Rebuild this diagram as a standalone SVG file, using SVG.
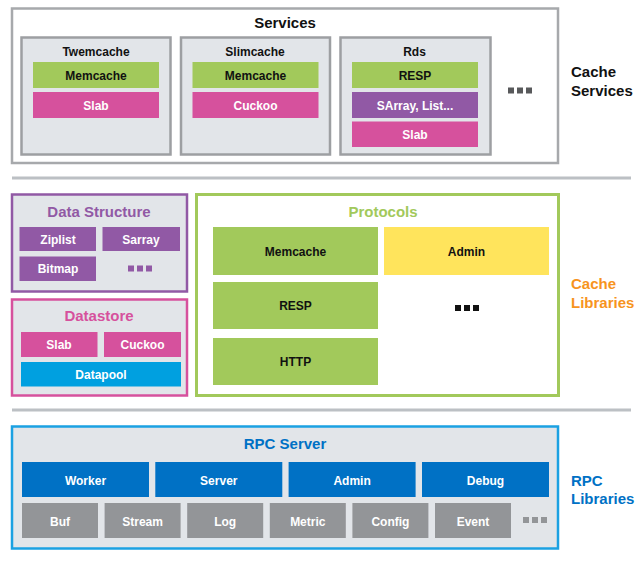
<svg xmlns="http://www.w3.org/2000/svg" width="641" height="579" viewBox="0 0 641 579">
<style>
text{font-family:"Liberation Sans",Arial,sans-serif;font-weight:bold;text-anchor:middle}
.t15{font-size:15px}
.t12{font-size:12px}
.blk{fill:#111}
.wht{fill:#fff}
.box{fill:#e2e5e9}
.svc{fill:#e2e5e9;stroke:#9d9fa2;stroke-width:2.5}
.green{fill:#a2c95b}
.pink{fill:#d6519d}
.purple{fill:#9159a5}
.cyan{fill:#00a0e0}
.yellow{fill:#ffe45c}
.blue{fill:#0071c5}
.gray{fill:#939598}
.sep{stroke:#bcc0c4;stroke-width:3}
.side{font-size:15px;text-anchor:start}
</style>
<rect width="641" height="579" fill="#fff"/>

<g id="services">
<rect x="12" y="8.5" width="546" height="154.5" fill="#fff" stroke="#a7a9ac" stroke-width="2.5"/>
<text x="285" y="27.5" class="t15 blk">Services</text>
</g>
<g id="twemcache">
<rect x="21.5" y="37.5" width="149" height="117" class="svc"/>
<text x="96" y="56" class="t12 blk">Twemcache</text>
<rect x="33" y="62" width="126" height="26" class="green"/>
<text x="96" y="79.5" class="t12 blk">Memcache</text>
<rect x="33" y="92" width="126" height="26" class="pink"/>
<text x="96" y="109.5" class="t12 wht">Slab</text>
</g>
<g id="slimcache">
<rect x="181" y="37.5" width="149" height="117" class="svc"/>
<text x="255" y="56" class="t12 blk">Slimcache</text>
<rect x="192.5" y="62" width="126" height="26" class="green"/>
<text x="255.5" y="79.5" class="t12 blk">Memcache</text>
<rect x="192.5" y="92" width="126" height="26" class="pink"/>
<text x="255.5" y="109.5" class="t12 wht">Cuckoo</text>
</g>
<g id="rds">
<rect x="340.5" y="37.5" width="150" height="117" class="svc"/>
<text x="414.5" y="56" class="t12 blk">Rds</text>
<rect x="352" y="62" width="126" height="26" class="green"/>
<text x="415" y="79.5" class="t12 blk">RESP</text>
<rect x="352" y="92" width="126" height="26" class="purple"/>
<text x="415" y="109.5" class="t12 wht">SArray, List...</text>
<rect x="352" y="121.5" width="126" height="25.5" class="pink"/>
<text x="415" y="139" class="t12 wht">Slab</text>
</g>
<g id="services-more" fill="#58595b">
<rect x="508" y="87.5" width="6" height="6"/>
<rect x="517" y="87.5" width="6" height="6"/>
<rect x="526" y="87.5" width="6" height="6"/>
</g>
<g id="label-cache-services">
<text x="571" y="77" class="side blk">Cache</text>
<text x="571" y="95.5" class="side blk">Services</text>
</g>

<g id="separators">
<line x1="12" y1="178" x2="631" y2="178" class="sep"/>
<line x1="12" y1="410" x2="631" y2="410" class="sep"/>
</g>

<g id="data-structure">
<rect x="12" y="194.5" width="175" height="97" class="box" stroke="#9159a5" stroke-width="2.5"/>
<text x="99" y="216.5" class="t15" fill="#9159a5">Data Structure</text>
<rect x="19.5" y="227" width="76.5" height="24" class="purple"/>
<text x="58" y="243.5" class="t12 wht">Ziplist</text>
<rect x="102.5" y="227" width="77.5" height="24" class="purple"/>
<text x="141" y="243.5" class="t12 wht">Sarray</text>
<rect x="19.5" y="256.5" width="76.5" height="24.5" class="purple"/>
<text x="58" y="273" class="t12 wht">Bitmap</text>
<g fill="#9159a5">
<rect x="128" y="265.5" width="6" height="6"/>
<rect x="137" y="265.5" width="6" height="6"/>
<rect x="146" y="265.5" width="6" height="6"/>
</g>
</g>

<g id="datastore">
<rect x="12" y="299.5" width="175" height="96" class="box" stroke="#d6519d" stroke-width="2.5"/>
<text x="99" y="321" class="t15" fill="#d6519d">Datastore</text>
<rect x="21" y="332" width="76.5" height="25" class="pink"/>
<text x="59" y="349" class="t12 wht">Slab</text>
<rect x="104" y="332" width="77" height="25" class="pink"/>
<text x="142.5" y="349" class="t12 wht">Cuckoo</text>
<rect x="21" y="362" width="160" height="24.5" class="cyan"/>
<text x="101" y="378.5" class="t12 wht">Datapool</text>
</g>

<g id="protocols">
<rect x="196.5" y="194.5" width="362" height="201" fill="#fff" stroke="#a2c95b" stroke-width="3"/>
<text x="383" y="216.5" class="t15" fill="#a2c95b">Protocols</text>
<rect x="213" y="227" width="165" height="48" class="green"/>
<text x="295.5" y="255.5" class="t12 blk">Memcache</text>
<rect x="384" y="227" width="165" height="48" class="yellow"/>
<text x="466.5" y="255.5" class="t12 blk">Admin</text>
<rect x="213" y="282" width="165" height="47" class="green"/>
<text x="295.5" y="310" class="t12 blk">RESP</text>
<rect x="213" y="338" width="165" height="47" class="green"/>
<text x="295.5" y="366" class="t12 blk">HTTP</text>
<g fill="#111">
<rect x="455" y="305" width="6" height="6"/>
<rect x="464" y="305" width="6" height="6"/>
<rect x="473" y="305" width="6" height="6"/>
</g>
</g>
<g id="label-cache-libraries">
<text x="571" y="289" class="side" fill="#f7941d">Cache</text>
<text x="571" y="307.5" class="side" fill="#f7941d">Libraries</text>
</g>

<g id="rpc-server">
<rect x="12" y="426.5" width="546" height="122" class="box" stroke="#1ba1e2" stroke-width="2.5"/>
<text x="285" y="448.5" class="t15" fill="#0071c5">RPC Server</text>
<rect x="22" y="462" width="127" height="35" class="blue"/>
<text x="85.5" y="484.5" class="t12 wht">Worker</text>
<rect x="155.3" y="462" width="127" height="35" class="blue"/>
<text x="218.8" y="484.5" class="t12 wht">Server</text>
<rect x="288.6" y="462" width="127" height="35" class="blue"/>
<text x="352.1" y="484.5" class="t12 wht">Admin</text>
<rect x="422" y="462" width="127" height="35" class="blue"/>
<text x="485.5" y="484.5" class="t12 wht">Debug</text>
<rect x="22" y="503" width="76" height="35" class="gray"/>
<text x="60" y="525.5" class="t12 wht">Buf</text>
<rect x="104.6" y="503" width="76" height="35" class="gray"/>
<text x="142.6" y="525.5" class="t12 wht">Stream</text>
<rect x="187.2" y="503" width="76" height="35" class="gray"/>
<text x="225.2" y="525.5" class="t12 wht">Log</text>
<rect x="269.8" y="503" width="76" height="35" class="gray"/>
<text x="307.8" y="525.5" class="t12 wht">Metric</text>
<rect x="352.4" y="503" width="76" height="35" class="gray"/>
<text x="390.4" y="525.5" class="t12 wht">Config</text>
<rect x="435" y="503" width="76" height="35" class="gray"/>
<text x="473" y="525.5" class="t12 wht">Event</text>
<g class="gray">
<rect x="523" y="517" width="6" height="6"/>
<rect x="532" y="517" width="6" height="6"/>
<rect x="541" y="517" width="6" height="6"/>
</g>
</g>
<g id="label-rpc-libraries">
<text x="571" y="485.5" class="side" fill="#0071c5">RPC</text>
<text x="571" y="503.5" class="side" fill="#0071c5">Libraries</text>
</g>
</svg>
